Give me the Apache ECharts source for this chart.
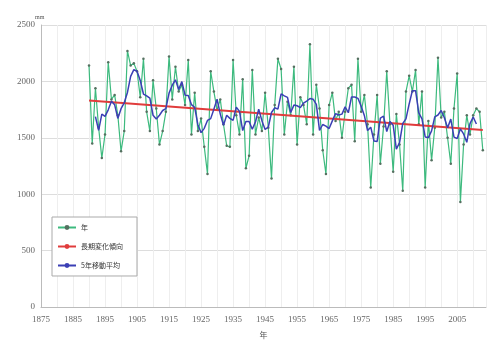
<!DOCTYPE html>
<html>
<head>
<meta charset="utf-8">
<script src="https://cdn.jsdelivr.net/npm/echarts@6/dist/echarts.min.js"></script>
<style>
  html, body { margin: 0; padding: 0; background: #fff; }
  #chart { width: 489px; height: 344px; }
</style>
</head>
<body>
<div id="chart"></div>
<script>
// 年降水量 (mm) 1890-2013
const startYear = 1890;
const annual = [
  2140, 1450, 1940, 1590, 1320, 1530, 2170, 1840, 1880, 1700,
  1380, 1560, 2270, 2140, 2160, 2090, 1860, 2200, 1730, 1560,
  2010, 1760, 1440, 1560, 1730, 2220, 1840, 2130, 1910, 1970,
  1790, 2190, 1530, 1900, 1560, 1670, 1420, 1180, 2090, 1910,
  1750, 1840, 1620, 1430, 1420, 2190, 1700, 1530, 2020, 1230,
  1340, 2100, 1530, 1680, 1560, 1900, 1590, 1140, 1790, 2200,
  2110, 1530, 1820, 1700, 2130, 1440, 1860, 1790, 1620, 2330,
  1530, 1970, 1760, 1390, 1180, 1790, 1900, 1650, 1730, 1500,
  1730, 1940, 1970, 1470, 2200, 1730, 1880, 1620, 1060, 1530,
  1880, 1270, 1600, 2090, 1620, 1200, 1710, 1440, 1030, 1910,
  2050, 1910, 2100, 1620, 1910, 1060, 1650, 1300, 1590, 2210,
  1680, 1730, 1500, 1270, 1760, 2070, 930, 1440, 1700, 1530,
  1700, 1760, 1730, 1390
];

// 5年移動平均 (1892-2011)
const maStartYear = 1892;
const movingAvg = [
  1688, 1566, 1710, 1690, 1748, 1824, 1794, 1672, 1758, 1810,
  1902, 2044, 2104, 2090, 2008, 1888, 1872, 1852, 1700, 1666,
  1700, 1742, 1758, 1896, 1966, 2014, 1928, 1998, 1878, 1876,
  1794, 1770, 1616, 1546, 1584, 1654, 1670, 1754, 1842, 1710,
  1612, 1700, 1672, 1654, 1772, 1734, 1564, 1644, 1644, 1576,
  1642, 1754, 1652, 1574, 1596, 1724, 1766, 1754, 1890, 1872,
  1858, 1724, 1790, 1784, 1768, 1808, 1826, 1848, 1842, 1796,
  1566, 1618, 1604, 1582, 1650, 1714, 1702, 1710, 1774, 1722,
  1862, 1862, 1850, 1780, 1698, 1564, 1594, 1472, 1468, 1674,
  1692, 1556, 1644, 1612, 1400, 1458, 1628, 1668, 1800, 1918,
  1918, 1720, 1668, 1508, 1502, 1562, 1686, 1702, 1742, 1678,
  1588, 1666, 1506, 1494, 1580, 1534, 1460, 1626, 1684, 1622
];

// 長期変化傾向 (両端)
const trendYears = [1890, 2013];
const trendValues = [1830, 1570];

const seriesNames = ['年', '長期変化傾向', '5年移動平均'];

const chartDom = document.getElementById('chart');
const myChart = echarts.init(chartDom);

const option = {
    animation: false,
    textStyle: { fontFamily: 'Liberation Serif' },
    grid: { left: 41, right: 0, top: 25, bottom: 36 },
    legend: {
        orient: 'vertical',
        left: 52,
        top: 217,
        backgroundColor: '#fff',
        borderColor: '#aaa',
        borderWidth: 1,
        padding: [7, 14, 7, 5],
        itemGap: 12,
        itemWidth: 18,
        itemHeight: 6,
        textStyle: { fontSize: 7, color: '#333', fontFamily: 'Noto Sans CJK JP' },
        data: seriesNames
    },
    xAxis: {
        type: 'value',
        min: 1875,
        max: 2014,
        interval: 5,
        name: '年',
        nameLocation: 'middle',
        nameGap: 24,
        nameTextStyle: { fontSize: 8, color: '#555', fontFamily: 'Noto Sans CJK JP' },
        axisLine: { lineStyle: { color: '#bbb' } },
        axisTick: { show: false },
        axisLabel: {
            fontSize: 9,
            color: '#666',
            margin: 8,
            formatter: (v) => ((v - 1875) % 10 === 0 ? String(v) : '')
        },
        splitLine: { show: true, lineStyle: { color: '#eee', width: 1 } }
    },
    yAxis: {
        type: 'value',
        min: 0,
        max: 2500,
        interval: 500,
        name: 'mm',
        nameGap: 4,
        nameTextStyle: { fontSize: 6, color: '#555', align: 'left', padding: [0, 0, 0, -6] },
        axisLine: { show: true, lineStyle: { color: '#bbb' } },
        axisTick: { show: false },
        axisLabel: { fontSize: 9, color: '#666', margin: 6, formatter: (v) => String(v) },
        splitLine: { lineStyle: { color: '#ddd', width: 1 } }
    },
    series: [
        {
            name: seriesNames[0],
            type: 'line',
            data: annual.map((v, i) => [startYear + i, v]),
            symbol: 'circle',
            symbolSize: 2.5,
            lineStyle: { color: '#3dba7e', width: 1.2 },
            itemStyle: { color: '#557060' },
            z: 2
        },
        {
            name: seriesNames[1],
            type: 'line',
            data: trendYears.map((y, i) => [y, trendValues[i]]),
            symbol: 'none',
            lineStyle: { color: '#e03c3c', width: 2 },
            itemStyle: { color: '#e03c3c' },
            z: 3
        },
        {
            name: seriesNames[2],
            type: 'line',
            data: movingAvg.map((v, i) => [maStartYear + i, v]),
            symbol: 'none',
            lineStyle: { color: '#3b3fb5', width: 1.5 },
            itemStyle: { color: '#3b3fb5' },
            z: 4
        }
    ]
};

myChart.setOption(option);
</script>
</body>
</html>
